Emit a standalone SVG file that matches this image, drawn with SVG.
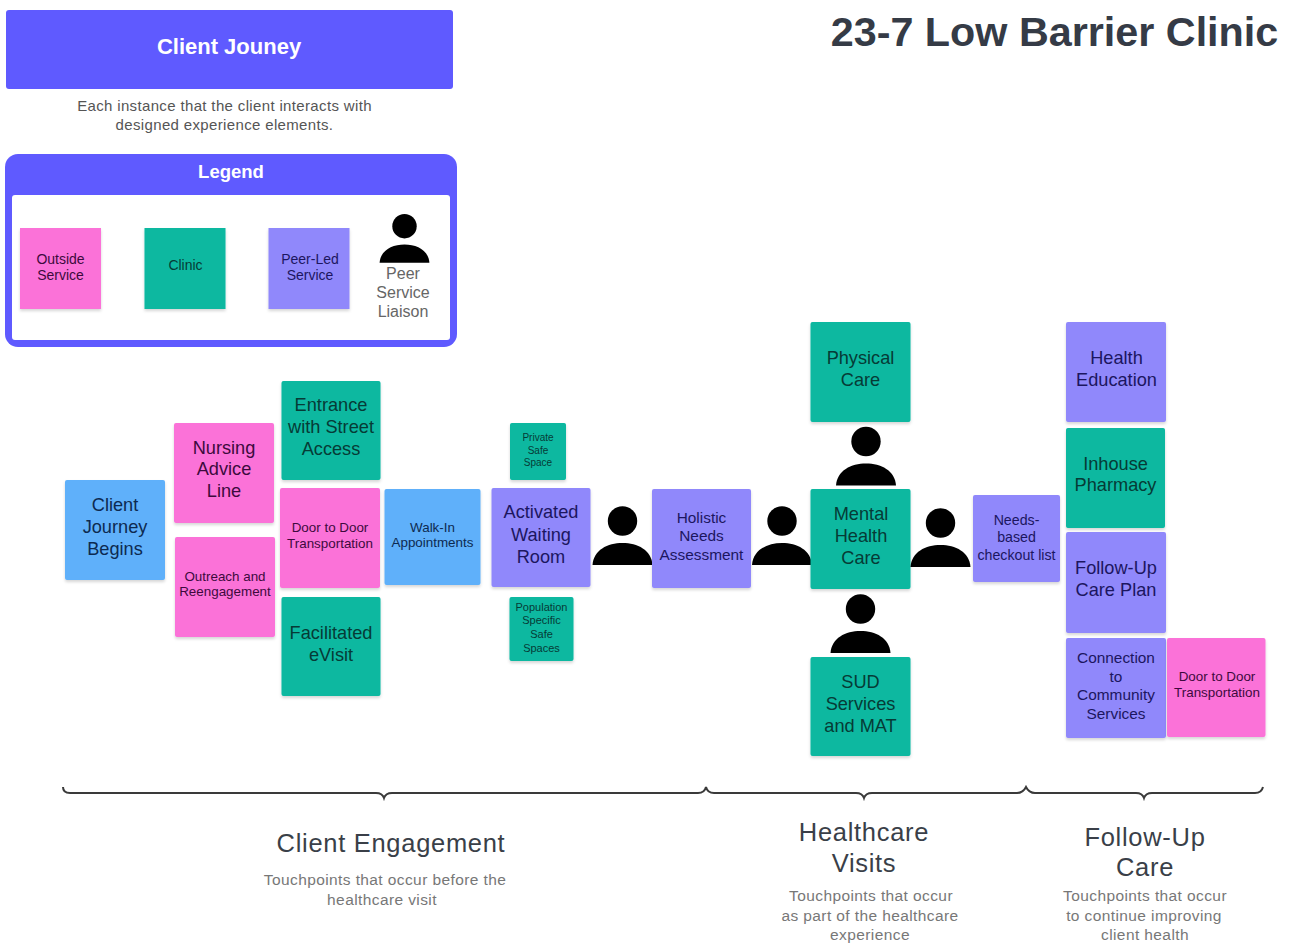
<svg xmlns="http://www.w3.org/2000/svg" xmlns:xlink="http://www.w3.org/1999/xlink" width="1293" height="944" viewBox="0 0 1293 944">
<style>
text{font-family:"Liberation Sans",Arial,sans-serif;text-anchor:middle}
.pk{fill:#fb72d8}.gr{fill:#08b8a0}.pu{fill:#9088fb}.bl{fill:#5fb0fa}
.s{filter:url(#sh)}
.tp{fill:#3d0a3d}.tg{fill:#063b36}.tu{fill:#1c1660}.tb{fill:#0d2a50}
.f18{font-size:18.200px}.f13{font-size:13.400px}.f14{font-size:14.200px}.f15{font-size:15.400px}.f10{font-size:10px}.f11{font-size:11px}.lg{font-size:14px}
.h{fill:#3a3f48;font-size:25.500px;letter-spacing:.7px}.d{fill:#777;font-size:15.500px;letter-spacing:.4px}
.br{fill:none;stroke:#3a3a3a;stroke-width:2}
</style>
<defs>
<filter id="sh" x="-10%" y="-10%" width="120%" height="125%"><feDropShadow dx="0" dy="2" stdDeviation="1.500" flood-color="#000" flood-opacity=".16"/></filter>
<g id="person"><circle cx="0" cy="-22" r="14.700" fill="#000"/><path d="M-30 22C-29 7-15 0 0 0S29 7 30 22Z" fill="#000"/></g>
</defs>
<rect width="1293" height="944" fill="#fff"/>
<text x="1054.500" y="46" style="font-size:41.300px;font-weight:700;fill:#353b46">23-7 Low Barrier Clinic</text>
<g id="client-journey"><rect x="6" y="10" width="447" height="79" rx="3" fill="#5f5aff"/><text x="229" y="54" style="font-size:22px;font-weight:700;fill:#fff">Client Jouney</text></g>
<g id="intro" style="font-size:15px;fill:#555;letter-spacing:.35px"><text x="224.500" y="111">Each instance that the client interacts with</text><text x="224.500" y="130">designed experience elements.</text></g>
<g id="legend">
<rect x="5" y="154" width="452" height="193" rx="13" fill="#5f5aff"/><rect x="12" y="195" width="438" height="145" rx="3" fill="#fff"/>
<text x="231" y="178" style="font-size:18.500px;font-weight:700;fill:#fff">Legend</text>
<g id="legend-outside"><rect class="pk s" x="20" y="228" width="81" height="81"/><text class="lg tp"><tspan x="60.500" y="264">Outside</tspan><tspan x="60.500" y="280">Service</tspan></text></g>
<g id="legend-clinic"><rect class="gr s" x="144.500" y="228" width="81" height="81"/><text class="lg tg" x="185.500" y="270">Clinic</text></g>
<g id="legend-peer"><rect class="pu s" x="268.500" y="228" width="81" height="81"/><text class="lg tu"><tspan x="310" y="264">Peer-Led</tspan><tspan x="310" y="280">Service</tspan></text></g>
<g id="legend-liaison"><use xlink:href="#person" href="#person" transform="translate(404.500 244.500) scale(.83)"/><text style="font-size:16px;fill:#666"><tspan x="403" y="279">Peer</tspan><tspan x="403" y="298">Service</tspan><tspan x="403" y="317">Liaison</tspan></text></g>
</g>
<g id="client-journey-begins"><rect class="bl s" x="65" y="480" width="100" height="100" rx="2"/><text class="f18 tb"><tspan x="115" y="510.500">Client</tspan><tspan x="115" y="532.500">Journey</tspan><tspan x="115" y="554.500">Begins</tspan></text></g>
<g id="nursing"><rect class="pk s" x="174" y="423" width="100" height="100" rx="2"/><text class="f18 tp"><tspan x="224" y="453.500">Nursing</tspan><tspan x="224" y="475">Advice</tspan><tspan x="224" y="497">Line</tspan></text></g>
<g id="outreach"><rect class="pk s" x="175" y="537" width="100" height="100" rx="2"/><text class="f13 tp"><tspan x="225" y="580.500">Outreach and</tspan><tspan x="225" y="596">Reengagement</tspan></text></g>
<g id="entrance"><rect class="gr s" x="281.500" y="381" width="99" height="99" rx="2"/><text class="f18 tg"><tspan x="331" y="410.500">Entrance</tspan><tspan x="331" y="432.500">with Street</tspan><tspan x="331" y="454.500">Access</tspan></text></g>
<g id="door1"><rect class="pk s" x="280" y="488" width="100" height="100" rx="2"/><text class="f13 tp"><tspan x="330" y="531.500">Door to Door</tspan><tspan x="330" y="547.500">Transportation</tspan></text></g>
<g id="evisit"><rect class="gr s" x="281.500" y="597" width="99" height="99" rx="2"/><text class="f18 tg"><tspan x="331" y="638.500">Facilitated</tspan><tspan x="331" y="660.500">eVisit</tspan></text></g>
<g id="walkin"><rect class="bl s" x="384.500" y="489" width="96" height="96" rx="2"/><text class="f13 tb"><tspan x="432.500" y="531.500">Walk-In</tspan><tspan x="432.500" y="546.500">Appointments</tspan></text></g>
<g id="private"><rect class="gr s" x="510" y="423" width="56" height="57" rx="2"/><text class="f10 tg"><tspan x="538" y="441">Private</tspan><tspan x="538" y="454">Safe</tspan><tspan x="538" y="466">Space</tspan></text></g>
<g id="waiting"><rect class="pu s" x="491.500" y="488" width="99" height="99" rx="2"/><text class="f18 tu"><tspan x="541" y="518">Activated</tspan><tspan x="541" y="541">Waiting</tspan><tspan x="541" y="563">Room</tspan></text></g>
<g id="population"><rect class="gr s" x="509.500" y="597" width="64" height="64" rx="2"/><text class="f11 tg"><tspan x="541.500" y="611">Population</tspan><tspan x="541.500" y="624">Specific</tspan><tspan x="541.500" y="638">Safe</tspan><tspan x="541.500" y="652">Spaces</tspan></text></g>
<g id="person-1"><use href="#person" transform="translate(622.500 543)"/></g>
<g id="holistic"><rect class="pu s" x="652" y="489" width="99" height="99" rx="2"/><text class="f15 tu"><tspan x="701.500" y="523">Holistic</tspan><tspan x="701.500" y="541">Needs</tspan><tspan x="701.500" y="560">Assessment</tspan></text></g>
<g id="person-2"><use href="#person" transform="translate(782 543)"/></g>
<g id="physical"><rect class="gr s" x="810.500" y="322" width="100" height="100" rx="2"/><text class="f18 tg"><tspan x="860.500" y="363.500">Physical</tspan><tspan x="860.500" y="385.500">Care</tspan></text></g>
<g id="person-3"><use href="#person" transform="translate(866 463.500)"/></g>
<g id="mental"><rect class="gr s" x="810.500" y="489" width="100" height="100" rx="2"/><text class="f18 tg"><tspan x="861" y="520">Mental</tspan><tspan x="861" y="542">Health</tspan><tspan x="861" y="564">Care</tspan></text></g>
<g id="person-4"><use href="#person" transform="translate(860.500 631)"/></g>
<g id="sud"><rect class="gr s" x="810.500" y="657" width="100" height="99" rx="2"/><text class="f18 tg"><tspan x="860.500" y="687.500">SUD</tspan><tspan x="860.500" y="709.500">Services</tspan><tspan x="860.500" y="731.500">and MAT</tspan></text></g>
<g id="person-5"><use href="#person" transform="translate(940.500 545)"/></g>
<g id="checkout"><rect class="pu s" x="973" y="495" width="87" height="87" rx="2"/><text class="f14 tu"><tspan x="1016.500" y="525">Needs-</tspan><tspan x="1016.500" y="542">based</tspan><tspan x="1016.500" y="560">checkout list</tspan></text></g>
<g id="health-ed"><rect class="pu s" x="1066" y="322" width="100" height="100" rx="2"/><text class="f18 tu"><tspan x="1116.500" y="363.500">Health</tspan><tspan x="1116.500" y="385.500">Education</tspan></text></g>
<g id="pharmacy"><rect class="gr s" x="1066" y="428" width="99" height="100" rx="2"/><text class="f18 tg"><tspan x="1115.500" y="469.500">Inhouse</tspan><tspan x="1115.500" y="491">Pharmacy</tspan></text></g>
<g id="followup"><rect class="pu s" x="1066" y="532" width="100" height="101" rx="2"/><text class="f18 tu"><tspan x="1116" y="574">Follow-Up</tspan><tspan x="1116" y="596">Care Plan</tspan></text></g>
<g id="connection"><rect class="pu s" x="1066" y="638" width="100" height="100" rx="2"/><text class="f15 tu"><tspan x="1116" y="663">Connection</tspan><tspan x="1116" y="682">to</tspan><tspan x="1116" y="700">Community</tspan><tspan x="1116" y="719">Services</tspan></text></g>
<g id="door2"><rect class="pk s" x="1167" y="638" width="98.500" height="99" rx="2"/><text class="f13 tp"><tspan x="1217" y="681">Door to Door</tspan><tspan x="1217" y="697">Transportation</tspan></text></g>
<g id="connectors">
<path class="br" d="M63 787C63 791 65 793 70 793H376C381 793 383 795 384 798C385 795 387 793 392 793H698C703 793 705 791 706 787C707 791 709 793 714 793H856C861 793 863 795 864 798C865 795 867 793 872 793H1017C1022 793 1024 791 1026 787C1028 791 1030 793 1035 793H1136C1141 793 1143 795 1144 798C1145 795 1147 793 1152 793H1255C1260 793 1262 791 1263 787"/>
</g>
<g id="client-engagement"><text class="h" x="391" y="852">Client Engagement</text><text class="d"><tspan x="385" y="885">Touchpoints that occur before the</tspan><tspan x="382" y="905">healthcare visit</tspan></text></g>
<g id="healthcare-visits"><text class="h"><tspan x="864" y="841">Healthcare</tspan><tspan x="864" y="872">Visits</tspan></text><text class="d"><tspan x="871" y="901">Touchpoints that occur</tspan><tspan x="870" y="921">as part of the healthcare</tspan><tspan x="870" y="940">experience</tspan></text></g>
<g id="follow-up-care"><text class="h"><tspan x="1145" y="846">Follow-Up</tspan><tspan x="1145" y="876">Care</tspan></text><text class="d"><tspan x="1145" y="901">Touchpoints that occur</tspan><tspan x="1144" y="921">to continue improving</tspan><tspan x="1145" y="940">client health</tspan></text></g>
</svg>
